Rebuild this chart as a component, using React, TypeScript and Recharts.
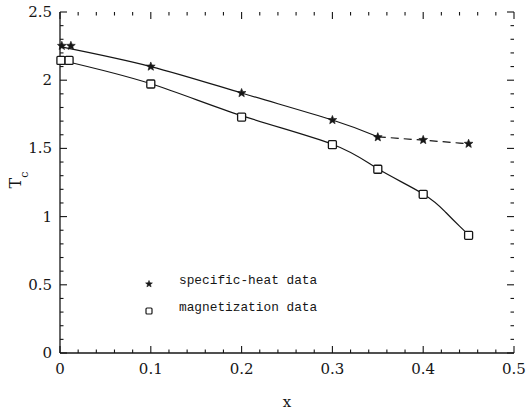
import React from 'react';
import { ComposedChart, Line, Scatter, XAxis, YAxis, Legend } from 'recharts';

// ---- data ----
const specificHeatX = [0.002, 0.012, 0.1, 0.2, 0.3, 0.35, 0.4, 0.45];
const specificHeatY = [2.252, 2.252, 2.1, 1.906, 1.708, 1.582, 1.562, 1.534];
const magnetizationX = [0.001, 0.01, 0.1, 0.2, 0.3, 0.35, 0.4, 0.45];
const magnetizationY = [2.145, 2.145, 1.972, 1.73, 1.527, 1.347, 1.163, 0.863];

// fitted curves
const upperSolidX = [0, 0.1, 0.2, 0.3, 0.35];
const upperSolidY = [2.246, 2.1, 1.906, 1.708, 1.585];
const upperDashedX = [0.35, 0.4, 0.45];
const upperDashedY = [1.585, 1.56, 1.534];
const lowerX = [0, 0.1, 0.2, 0.3, 0.35, 0.4, 0.425, 0.44, 0.45];
const lowerY = [2.148, 1.974, 1.74, 1.53, 1.35, 1.166, 1.03, 0.93, 0.866];

const xMajorTicks = [0, 0.1, 0.2, 0.3, 0.4, 0.5];
const xMinorTicks = [0.02, 0.04, 0.06, 0.08, 0.12, 0.14, 0.16, 0.18, 0.22, 0.24, 0.26, 0.28, 0.32, 0.34, 0.36, 0.38, 0.42, 0.44, 0.46, 0.48];
const yMajorTicks = [0, 0.5, 1, 1.5, 2, 2.5];
const yMinorTicks = [0.1, 0.2, 0.3, 0.4, 0.6, 0.7, 0.8, 0.9, 1.1, 1.2, 1.3, 1.4, 1.6, 1.7, 1.8, 1.9, 2.1, 2.2, 2.3, 2.4];
const X_DOMAIN: [number, number] = [0, 0.5];
const Y_DOMAIN: [number, number] = [0, 2.5];

const seriesNames = ['specific-heat data', 'magnetization data'];

const zip = (xs: number[], ys: number[]) => xs.map((x, i) => ({ x, y: ys[i] }));
const starData = zip(specificHeatX, specificHeatY);
const squareData = zip(magnetizationX, magnetizationY);
const upperSolid = zip(upperSolidX, upperSolidY);
const upperDashed = zip(upperDashedX, upperDashedY);
const lowerCurve = zip(lowerX, lowerY);

// tick-mark "series" placed on the four frame edges (positions come from the axis scales)
const xTickMarks = [
  ...xMajorTicks.map((v) => ({ v, major: true })),
  ...xMinorTicks.map((v) => ({ v, major: false })),
];
const yTickMarks = [
  ...yMajorTicks.map((v) => ({ v, major: true })),
  ...yMinorTicks.map((v) => ({ v, major: false })),
];
const bottomMarks = xTickMarks.map((t) => ({ x: t.v, y: Y_DOMAIN[0], major: t.major }));
const topMarks = xTickMarks.map((t) => ({ x: t.v, y: Y_DOMAIN[1], major: t.major }));
const leftMarks = yTickMarks.map((t) => ({ x: X_DOMAIN[0], y: t.v, major: t.major }));
const rightMarks = yTickMarks.map((t) => ({ x: X_DOMAIN[1], y: t.v, major: t.major }));

const INK = '#161616';
const FONT = '"DejaVu Serif", serif';
const MONO = '"Liberation Mono", "DejaVu Sans Mono", monospace';
const MAJ = 7;
const MIN = 3.5;
const TW = 1.1;

const fmt = (v: number) => String(Math.round(v * 100) / 100);

const starPoints = (cx: number, cy: number, R: number, r: number) => {
  const pts: string[] = [];
  for (let i = 0; i < 10; i++) {
    const ang = -Math.PI / 2 + (i * Math.PI) / 5;
    const rad = i % 2 === 0 ? R : r;
    pts.push(`${cx + rad * Math.cos(ang)},${cy + rad * Math.sin(ang)}`);
  }
  return pts.join(' ');
};

const StarShape = (props: any) => {
  const { cx, cy } = props;
  return <polygon points={starPoints(cx, cy, 4.6, 2.0)} fill={INK} stroke={INK} strokeWidth={0.6} />;
};
const SquareShape = (props: any) => {
  const { cx, cy } = props;
  return <rect x={cx - 4} y={cy - 4} width={8} height={8} fill="#fff" stroke={INK} strokeWidth={1.3} rx={1} />;
};

const isMajorMark = (props: any) => Boolean(props.major ?? (props.payload && props.payload.major));
const BottomMark = (props: any) => {
  const len = isMajorMark(props) ? MAJ : MIN;
  return <rect x={props.cx - TW / 2} y={props.cy - len} width={TW} height={len} fill={INK} />;
};
const TopMark = (props: any) => {
  const len = isMajorMark(props) ? MAJ : MIN;
  return <rect x={props.cx - TW / 2} y={props.cy} width={TW} height={len} fill={INK} />;
};
const LeftMark = (props: any) => {
  const len = isMajorMark(props) ? MAJ : MIN;
  return <rect x={props.cx} y={props.cy - TW / 2} width={len} height={TW} fill={INK} />;
};
const RightMark = (props: any) => {
  const len = isMajorMark(props) ? MAJ : MIN;
  return <rect x={props.cx - len} y={props.cy - TW / 2} width={len} height={TW} fill={INK} />;
};

const BottomLabel = (props: any) => (
  <text x={props.x} y={Number(props.y) + 21} textAnchor="middle" fontSize={15} fontFamily={FONT} fill={INK} stroke="none">
    {fmt(props.payload.value)}
  </text>
);
const LeftLabel = (props: any) => (
  <text x={Number(props.x) - 8} y={Number(props.y) + 5} textAnchor="end" fontSize={15} fontFamily={FONT} fill={INK} stroke="none">
    {fmt(props.payload.value)}
  </text>
);

const YLabel = (props: any) => {
  const vb = props.viewBox || { x: 0, y: 12, width: 60, height: 341 };
  const cy = vb.y + vb.height / 2;
  return (
    <g transform={`translate(${vb.x + 21}, ${cy + 6}) rotate(-90)`}>
      <text x={0} y={0} fontSize={16} fontFamily={FONT} fill={INK}>
        T<tspan dy={7} fontSize={11}>c</tspan>
      </text>
    </g>
  );
};
const XLabel = (props: any) => {
  const vb = props.viewBox || { x: 60, y: 353, width: 454, height: 62 };
  return (
    <text x={vb.x + vb.width / 2} y={vb.y + 54} textAnchor="middle" fontSize={15} fontFamily={FONT} fill={INK}>
      x
    </text>
  );
};

const LegendContent = () => (
  <div style={{ position: 'relative', width: 230, height: 52 }}>
    <svg width={20} height={52} style={{ position: 'absolute', left: 0, top: 0 }}>
      <polygon points={starPoints(9, 14, 3.6, 1.6)} fill={INK} stroke={INK} strokeWidth={0.5} />
      <rect x={6} y={38} width={6} height={6} fill="#fff" stroke={INK} strokeWidth={1.2} rx={1} />
    </svg>
    <div style={{ position: 'absolute', left: 39, top: 3, fontFamily: MONO, fontSize: 12.8, color: INK, whiteSpace: 'nowrap', lineHeight: '16px' }}>
      {seriesNames[0]}
    </div>
    <div style={{ position: 'absolute', left: 39, top: 30, fontFamily: MONO, fontSize: 12.8, color: INK, whiteSpace: 'nowrap', lineHeight: '16px' }}>
      {seriesNames[1]}
    </div>
  </div>
);

const axisLine = { stroke: INK, strokeWidth: 1.3 };

export default function App() {
  return (
    <div style={{ position: 'absolute', left: 0, top: 0, width: 531, height: 415, background: '#fff' }}>
      <ComposedChart width={531} height={415} margin={{ top: 12, right: 17, left: 0, bottom: 0 }}>
        <XAxis xAxisId={0} orientation="bottom" type="number" dataKey="x" domain={X_DOMAIN} ticks={xMajorTicks} interval={0}
          height={62} tickSize={0} tickMargin={0} tick={<BottomLabel />} tickLine={false} axisLine={axisLine}
          label={<XLabel />} />
        <XAxis xAxisId="t" orientation="top" type="number" dataKey="x" domain={X_DOMAIN} ticks={xMajorTicks}
          height={0} tick={false} tickLine={false} axisLine={axisLine} />
        <YAxis yAxisId={0} orientation="left" type="number" domain={Y_DOMAIN} ticks={yMajorTicks} interval={0}
          width={60} tickSize={0} tickMargin={0} tick={<LeftLabel />} tickLine={false} axisLine={axisLine}
          label={<YLabel />} />
        <YAxis yAxisId="r" orientation="right" type="number" domain={Y_DOMAIN} ticks={yMajorTicks}
          width={0} tick={false} tickLine={false} axisLine={axisLine} />

        <Scatter data={bottomMarks} dataKey="y" shape={<BottomMark />} isAnimationActive={false} legendType="none" />
        <Scatter data={topMarks} dataKey="y" shape={<TopMark />} isAnimationActive={false} legendType="none" />
        <Scatter data={leftMarks} dataKey="y" shape={<LeftMark />} isAnimationActive={false} legendType="none" />
        <Scatter data={rightMarks} dataKey="y" shape={<RightMark />} isAnimationActive={false} legendType="none" />

        <Line data={upperSolid} dataKey="y" type="natural" stroke={INK} strokeWidth={1.2} dot={false} isAnimationActive={false} legendType="none" />
        <Line data={upperDashed} dataKey="y" type="natural" stroke={INK} strokeWidth={1.2} strokeDasharray="8 5" dot={false} isAnimationActive={false} legendType="none" />
        <Line data={lowerCurve} dataKey="y" type="natural" stroke={INK} strokeWidth={1.2} dot={false} isAnimationActive={false} legendType="none" />
        <Scatter name={seriesNames[0]} data={starData} dataKey="y" shape={<StarShape />} isAnimationActive={false} />
        <Scatter name={seriesNames[1]} data={squareData} dataKey="y" shape={<SquareShape />} isAnimationActive={false} />
        <Legend
          layout="vertical"
          align="center"
          verticalAlign="middle"
          content={<LegendContent />}
          wrapperStyle={{ left: 140, top: 270, width: 230, height: 52 }}
        />
      </ComposedChart>
    </div>
  );
}
